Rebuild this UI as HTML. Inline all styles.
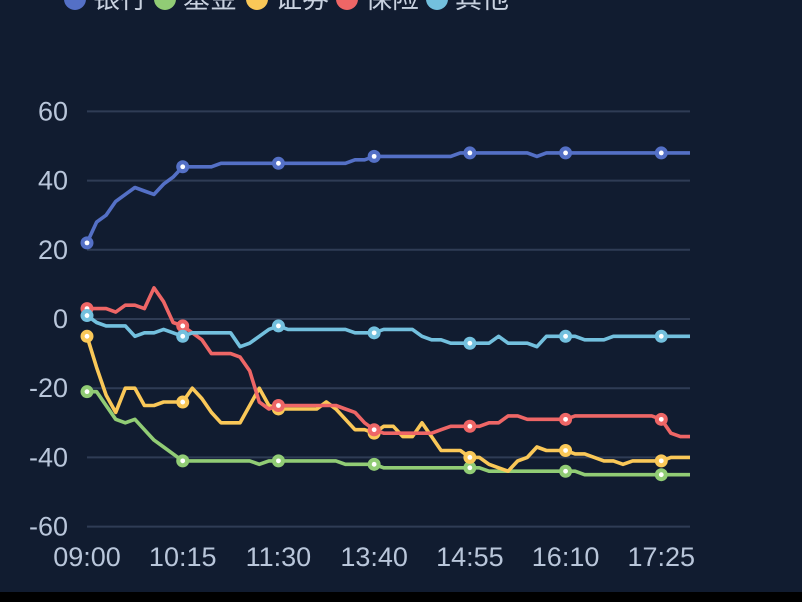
<!DOCTYPE html>
<html><head><meta charset="utf-8">
<style>
html,body{margin:0;padding:0;background:#000;}
#wrap{width:802px;height:602px;position:relative;overflow:hidden;background:#000;}
svg{display:block;}
text{font-family:"Liberation Sans","Noto Sans CJK SC",sans-serif;}
</style></head>
<body>
<div id="wrap">
<svg id="chart" width="802" height="602">
<rect x="0" y="0" width="802" height="592" fill="#111c30"/>
<g id="grid"></g>
<g id="yaxis"></g>
<g id="xaxis"></g>
<g id="series"></g>
<g id="legend"></g>
</svg>
</div>
<script>
const xLabels = ["09:00","10:15","11:30","13:40","14:55","16:10","17:25"];
const yTicks = [60,40,20,0,-20,-40,-60];
const seriesNames = ["银行","基金","证券","保险","其他"];
const seriesColors = ["#5470c6","#91cc75","#fac858","#ee6666","#73c0de"];
const bank = [22,28,30,34,36,38,37,36,39,41, 44,44,44,44,45,45,45,45,45,45, 45,45,45,45,45,45,45,45,46,46, 47,47,47,47,47,47,47,47,47,48, 48,48,48,48,48,48,48,47,48,48, 48,48,48,48,48,48,48,48,48,48, 48,48,48,48];
const fund = [-21,-21,-25,-29,-30,-29,-32,-35,-37,-39, -41,-41,-41,-41,-41,-41,-41,-41,-42,-41, -41,-41,-41,-41,-41,-41,-41,-42,-42,-42, -42,-43,-43,-43,-43,-43,-43,-43,-43,-43, -43,-43,-44,-44,-44,-44,-44,-44,-44,-44, -44,-44,-45,-45,-45,-45,-45,-45,-45,-45, -45,-45,-45,-45];
const securities = [-5,-14,-22,-27,-20,-20,-25,-25,-24,-24, -24,-20,-23,-27,-30,-30,-30,-25,-20,-25, -26,-26,-26,-26,-26,-24,-26,-29,-32,-32, -33,-31,-31,-34,-34,-30,-34,-38,-38,-38, -40,-40,-42,-43,-44,-41,-40,-37,-38,-38, -38,-39,-39,-40,-41,-41,-42,-41,-41,-41, -41,-40,-40,-40];
const insurance = [3,3,3,2,4,4,3,9,5,-1, -2,-4,-6,-10,-10,-10,-11,-15,-24,-26, -25,-25,-25,-25,-25,-25,-25,-26,-27,-30, -32,-33,-33,-33,-33,-33,-33,-32,-31,-31, -31,-31,-30,-30,-28,-28,-29,-29,-29,-29, -29,-28,-28,-28,-28,-28,-28,-28,-28,-28, -29,-33,-34,-34];
const other = [1,-1,-2,-2,-2,-5,-4,-4,-3,-4, -5,-4,-4,-4,-4,-4,-8,-7,-5,-3, -2,-3,-3,-3,-3,-3,-3,-3,-4,-4, -4,-3,-3,-3,-3,-5,-6,-6,-7,-7, -7,-7,-7,-5,-7,-7,-7,-8,-5,-5, -5,-5,-6,-6,-6,-5,-5,-5,-5,-5, -5,-5,-5,-5];
const allSeries = [bank,fund,securities,insurance,other];

const NS="http://www.w3.org/2000/svg";
const X0=87, X1=690, Y0=319, PX_PER=3.46;
const N = bank.length;
const step=(X1-X0)/(N-1);
function xs(i){return X0+i*step;}
function ys(v){return Y0 - v*PX_PER;}
function mk(tag,attrs,parent){const e=document.createElementNS(NS,tag);for(const k in attrs)e.setAttribute(k,attrs[k]);parent.appendChild(e);return e;}

const grid=document.getElementById('grid'), yax=document.getElementById('yaxis'), xax=document.getElementById('xaxis');
yTicks.forEach(t=>{
  const l=mk('line',{x1:X0,x2:X1,y1:ys(t),y2:ys(t),stroke:'#2f3c55','stroke-width':2},grid);
  
  
  const tx=mk('text',{x:68,y:ys(t)+9,'text-anchor':'end','font-size':27,fill:'#b9c6da'},yax);
  tx.textContent=t;
  
  
});
xLabels.forEach((lab,k)=>{
  const tx=mk('text',{x:xs(k*10),y:566,'text-anchor':'middle','font-size':27,fill:'#b9c6da'},xax);
  tx.textContent=lab;
  
  
});
const sg=document.getElementById('series');
allSeries.forEach((data,s)=>{
  const g=mk('g',{},sg);
  
  
  const d=data.map((v,i)=>(i?'L':'M')+xs(i).toFixed(1)+' '+ys(v).toFixed(1)).join(' ');
  const p=mk('path',{d:d,fill:'none',stroke:seriesColors[s],'stroke-width':3.6,'stroke-linejoin':'round'},g);
  
  
  data.forEach((v,i)=>{
    if(i%10!==0) return;
    const c=mk('circle',{cx:xs(i),cy:ys(v),r:6.5,fill:seriesColors[s]},g);
    
    
    mk('circle',{cx:xs(i),cy:ys(v),r:2.4,fill:'#ffffff'},g);
  });
});
const lg=document.getElementById('legend');
const lx=[75,165,257,347,437];
seriesNames.forEach((n,s)=>{
  const g=mk('g',{},lg);
  
  
  mk('ellipse',{cx:lx[s],cy:-1,rx:11,ry:11,fill:seriesColors[s]},g);
  const t=mk('text',{x:lx[s]+18,y:8,'font-size':27,fill:'#c9d2e0'},g);
  t.textContent=n;
});
</script>
</body></html>
